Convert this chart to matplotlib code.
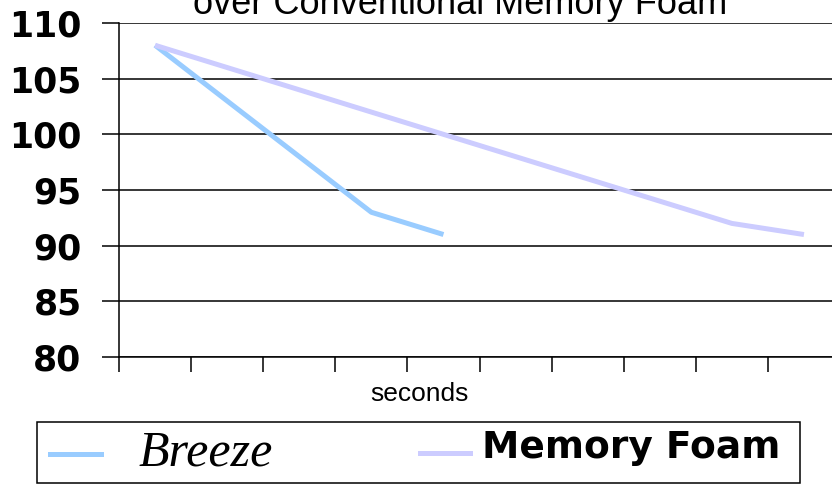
import matplotlib
matplotlib.use('Agg')
import matplotlib.pyplot as plt
from matplotlib.lines import Line2D
from matplotlib.patches import Rectangle

# data
breeze = [108, 103, 98, 93, 91]
memory_foam = [108, 106, 104, 102, 100, 98, 96, 94, 92, 91]
n_cat = 10
y_ticks = [80, 85, 90, 95, 100, 105, 110]
series_names = ['Breeze', 'Memory Foam']
colors = ['#99CCFF', '#CCCCFF']

W, H = 832, 487
fig = plt.figure(figsize=(W / 100, H / 100), dpi=100)

def fx(px):
    return px / W

def fy(py):
    return 1 - py / H

# axes run past the right edge of the picture, like the reference
ax = fig.add_axes([fx(119), fy(357), fx(840) - fx(119), fy(23) - fy(357)])
ax.set_xlim(0, n_cat)
ax.set_ylim(80, 110)

x_b = [i + 0.5 for i in range(len(breeze))]
x_m = [i + 0.5 for i in range(len(memory_foam))]
ax.plot(x_b, breeze, color=colors[0], lw=3.6, solid_joinstyle='round',
        solid_capstyle='butt', zorder=3)
ax.plot(x_m, memory_foam, color=colors[1], lw=3.6, solid_joinstyle='round',
        solid_capstyle='butt', zorder=3)

ax.set_yticks(y_ticks)
ax.set_yticklabels([str(v) for v in y_ticks], fontsize=25,
                   fontweight='bold', family='DejaVu Sans')
ax.set_xticks(range(n_cat + 1))
ax.set_xticklabels([])
ax.tick_params(axis='y', length=12, width=1.1, pad=15, color='black')
ax.tick_params(axis='x', length=11, width=1.1, color='black')
ax.yaxis.grid(True, color='black', lw=1.1)
ax.set_axisbelow(True)
for s in ['top', 'right']:
    ax.spines[s].set_visible(False)
for s in ['left', 'bottom']:
    ax.spines[s].set_linewidth(1.1)

# title (first line is cut off in the reference)
fig.text(fx(460), fy(14), 'over Conventional Memory Foam', ha='center',
         va='baseline', fontsize=26, family='Liberation Sans')

fig.text(fx(419.5), fy(401), 'seconds', ha='center', va='baseline',
         fontsize=19, family='Liberation Sans')

# legend box drawn by hand
fig.add_artist(Rectangle((fx(37), fy(483)), fx(800) - fx(37), fy(422) - fy(483),
                         transform=fig.transFigure, fill=False,
                         edgecolor='black', lw=1.1))
fig.add_artist(Line2D([fx(50), fx(101)], [fy(454), fy(454)], color=colors[0],
                      lw=3.6, transform=fig.transFigure))
fig.text(fx(139), fy(465), series_names[0], ha='left', va='baseline',
         fontsize=36, style='italic', family='Liberation Serif')
fig.add_artist(Line2D([fx(420), fx(470)], [fy(453), fy(453)], color=colors[1],
                      lw=3.6, transform=fig.transFigure))
fig.text(fx(482), fy(458), series_names[1], ha='left', va='baseline',
         fontsize=27, fontweight='bold', family='DejaVu Sans')

fig.savefig('out.png', dpi=100)
